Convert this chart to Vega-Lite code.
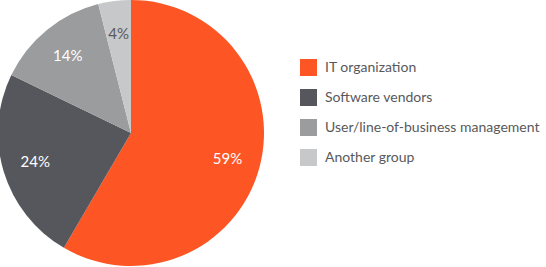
{
  "$schema": "https://vega.github.io/schema/vega-lite/v6.json",
  "width": 262,
  "height": 266,
  "padding": {"left": 0, "top": 0, "right": 284, "bottom": 1},
  "autosize": {"type": "none"},
  "background": "white",
  "config": {"view": {"stroke": null}},
  "data": {"values": [
    {"group": "IT organization", "share": 59, "label": "59%", "order": 1},
    {"group": "Software vendors", "share": 24, "label": "24%", "order": 2},
    {"group": "User/line-of-business management", "share": 14, "label": "14%", "order": 3},
    {"group": "Another group", "share": 4, "label": "4%", "order": 4}
  ]},
  "encoding": {
    "theta": {"field": "share", "type": "quantitative", "stack": true},
    "order": {"field": "order", "type": "quantitative"}
  },
  "layer": [
    {
      "mark": {"type": "arc", "outerRadius": 133},
      "encoding": {
        "color": {
          "field": "group", "type": "nominal",
          "scale": {
            "domain": ["IT organization", "Software vendors", "User/line-of-business management", "Another group"],
            "range": ["#FD5624", "#55575C", "#9B9C9E", "#C7C8CA"]
          },
          "legend": {
            "title": null,
            "orient": "none",
            "legendX": 300,
            "legendY": 59,
            "symbolType": "square",
            "symbolSize": 289,
            "symbolStrokeWidth": 0,
            "labelFont": "Lato",
            "labelFontSize": 14,
            "labelColor": "#58595B",
            "labelOffset": 8,
            "rowPadding": 13,
            "labelLimit": 300
          }
        }
      }
    },
    {
      "mark": {"type": "text", "radius": 100, "font": "Lato", "fontSize": 15},
      "encoding": {
        "text": {"field": "label"},
        "color": {
          "condition": {"test": "datum.order == 4", "value": "#58595B"},
          "value": "white"
        }
      }
    }
  ]
}
